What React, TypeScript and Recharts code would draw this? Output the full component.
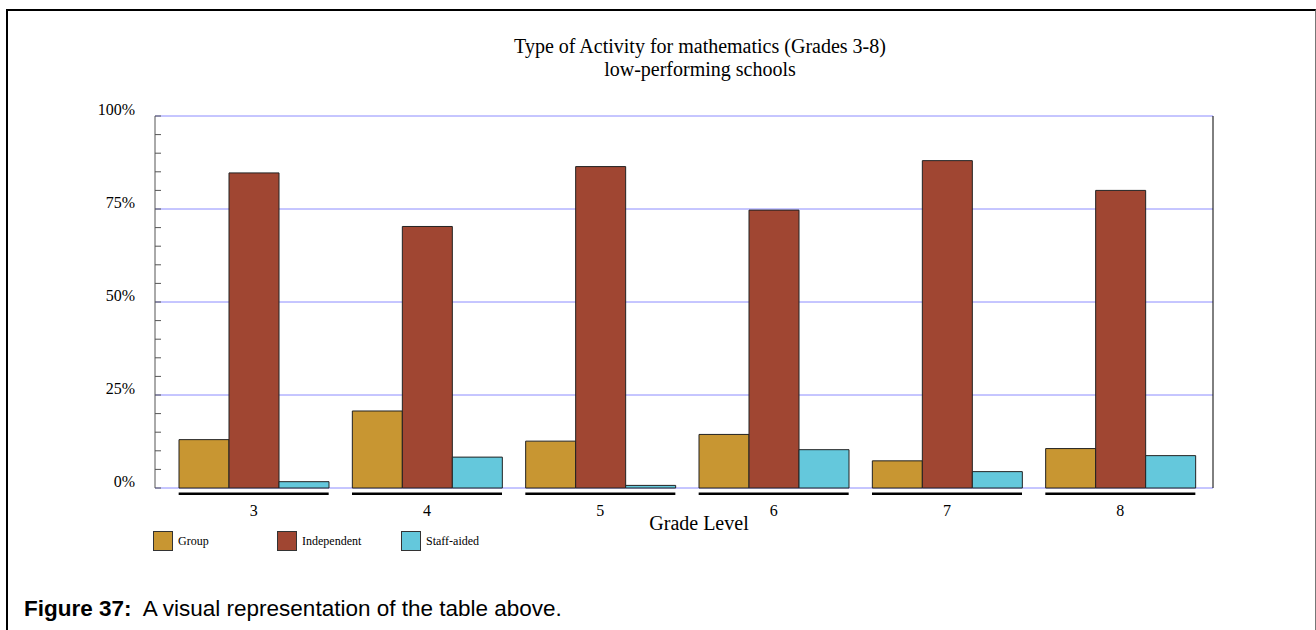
import React from 'react';
import { BarChart, Bar, XAxis, YAxis, CartesianGrid } from 'recharts';

// values (percent of activity)
const grades = ['3', '4', '5', '6', '7', '8'];
const groupPct = [13.0, 20.7, 12.6, 14.4, 7.3, 10.6];
const independentPct = [84.7, 70.3, 86.4, 74.7, 88.0, 80.0];
const staffAidedPct = [1.7, 8.3, 0.7, 10.3, 4.4, 8.7];

const yTicks = [0, 5, 10, 15, 20, 25, 30, 35, 40, 45, 50, 55, 60, 65, 70, 75, 80, 85, 90, 95, 100];
const gridValues = [0, 25, 50, 75, 100];

const seriesKeys = ['group', 'independent', 'staff'];
const seriesNames = ['Group', 'Independent', 'Staff-aided'];
const seriesColors = ['#c89632', '#a04632', '#64c8dc'];

const data = grades.map((g, i) => ({
  grade: g,
  group: groupPct[i],
  independent: independentPct[i],
  staff: staffAidedPct[i],
}));

const SERIF = '"Liberation Serif", "Times New Roman", serif';
const BAR = 50;

const LeftTick = (props: any) => {
  const { x, y, payload } = props;
  return (
    <g>
      <line x1={x} x2={x + 6} y1={y} y2={y} stroke="#555" />
      {payload.value % 25 === 0 && (
        <text x={x - 20} y={y - 5} textAnchor="end" dominantBaseline="middle" fontSize={16} fontFamily={SERIF} fill="#000">
          {payload.value}%
        </text>
      )}
    </g>
  );
};

const RightTick = (props: any) => {
  const { x, y } = props;
  return <line x1={x - 6} x2={x} y1={y} y2={y} stroke="#333" />;
};

const GradeTick = (props: any) => {
  const { x, y, payload } = props;
  const half = (BAR * seriesKeys.length) / 2;
  return (
    <g>
      <rect x={x - half} y={y + 4.5} width={half * 2} height={2.5} fill="#000" />
      <text x={x} y={y + 24} textAnchor="middle" dominantBaseline="middle" fontSize={16} fontFamily={SERIF} fill="#000">
        {payload.value}
      </text>
    </g>
  );
};

export default function App() {
  return (
    <div style={{ position: 'absolute', left: 0, top: 0, width: 1316, height: 630, overflow: 'hidden', background: '#fff' }}>
      <div
        style={{
          position: 'absolute', left: 6, top: 9, width: 1307, height: 700,
          borderLeft: '2px solid #000', borderTop: '2px solid #000', borderRight: '1px solid #777',
        }}
      />
      <div style={{ position: 'absolute', left: 400, top: 35, width: 600, textAlign: 'center', fontFamily: SERIF, fontSize: 20, lineHeight: '23px', color: '#000' }}>
        Type of Activity for mathematics (Grades 3-8)
        <br />
        low-performing schools
      </div>
      <div style={{ position: 'absolute', left: 0, top: 0 }}>
        <BarChart width={1316} height={630} data={data} barGap={0} barSize={BAR} margin={{ top: 116, right: 93, bottom: 112, left: 95 }}>
          <CartesianGrid yAxisId="left" vertical={false} horizontalValues={gridValues} stroke="#8c8cff" />
          <XAxis
            dataKey="grade"
            height={30}
            axisLine={false}
            tickLine={false}
            tickSize={0}
            tickMargin={0}
            padding={{ left: 12, right: 6 }}
            tick={<GradeTick />}
            interval={0}
          />
          <YAxis
            yAxisId="left"
            width={60}
            domain={[0, 100]}
            ticks={yTicks}
            interval={0}
            tickSize={0}
            tickMargin={0}
            tickLine={false}
            axisLine={{ stroke: '#555' }}
            tick={<LeftTick />}
          />
          <YAxis
            yAxisId="right"
            orientation="right"
            width={10}
            domain={[0, 100]}
            ticks={yTicks}
            interval={0}
            tickSize={0}
            tickMargin={0}
            tickLine={false}
            axisLine={{ stroke: '#000' }}
            tick={<RightTick />}
          />
          {seriesKeys.map((k, i) => (
            <Bar key={k} yAxisId="left" dataKey={k} name={seriesNames[i]} fill={seriesColors[i]} stroke="#222" strokeWidth={1} isAnimationActive={false} />
          ))}
        </BarChart>
      </div>
      <div style={{ position: 'absolute', left: 599, top: 512, width: 200, textAlign: 'center', fontFamily: SERIF, fontSize: 20, lineHeight: '23px', color: '#000' }}>
        Grade Level
      </div>
      {seriesNames.map((n, i) => (
        <div key={n} style={{ position: 'absolute', left: 153 + i * 124, top: 531, height: 20, display: 'flex', alignItems: 'center' }}>
          <div style={{ width: 18, height: 18, background: seriesColors[i], border: '1px solid #333' }} />
          <span style={{ marginLeft: 5, fontFamily: SERIF, fontSize: 12, color: '#000' }}>{n}</span>
        </div>
      ))}
      <div style={{ position: 'absolute', left: 24, top: 595, fontFamily: '"Liberation Sans", Arial, sans-serif', fontSize: 22.5, lineHeight: '28px', color: '#000', whiteSpace: 'pre' }}>
        <b>Figure 37:</b>{'  A visual representation of the table above.'}
      </div>
    </div>
  );
}
